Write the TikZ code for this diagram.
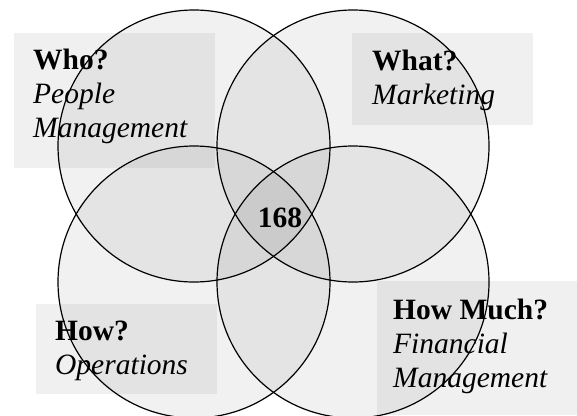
\documentclass[tikz,border=0pt]{standalone}
\usepackage{fontspec}
\setmainfont{Liberation Serif}
\begin{document}
\begin{tikzpicture}[x=1pt,y=-1pt,
  set/.style={circle,minimum size=272pt,inner sep=0pt},
  setfill/.style={fill=black,fill opacity=0.055},
  setline/.style={draw=black,line width=1.2pt},
  panel/.style={fill=black,fill opacity=0.06},
  lbl/.style={anchor=base west,align=left,inner sep=0pt,font=\fontsize{29.5}{34}\selectfont},
  num/.style={anchor=base,inner sep=0pt,font=\fontsize{29.5}{34}\selectfont\bfseries}]
\useasboundingbox (0,0) rectangle (577,415);
% shaded panels behind the labels
\fill[panel] (14,33) rectangle (215,168);
\fill[panel] (352,33) rectangle (533,125);
\fill[panel] (36,304) rectangle (217,394);
\fill[panel] (377,281) rectangle (577,415);
% circles
\node[set,setfill] (who) at (194,146) {};
\node[set,setfill] (what) at (353,146) {};
\node[set,setfill] (how) at (194,282) {};
\node[set,setfill] (much) at (353,282) {};
\foreach \c in {who,what,how,much} \draw[setline] (\c) circle[radius=136pt];
% labels (anchored at the baseline of the last line)
\node[lbl] (whoT) at (33,137) {\textbf{Who?}\\\textit{People}\\\textit{Management}};
\node[lbl] (whatT) at (372,104) {\textbf{What?}\\\textit{Marketing}};
\node[lbl] (howT) at (55,374) {\textbf{How?}\\\textit{Operations}};
\node[lbl] (muchT) at (393,387) {\textbf{How Much?}\\\textit{Financial}\\\textit{Management}};
\node[num] (core) at (280,227) {168};
\end{tikzpicture}
\end{document}
